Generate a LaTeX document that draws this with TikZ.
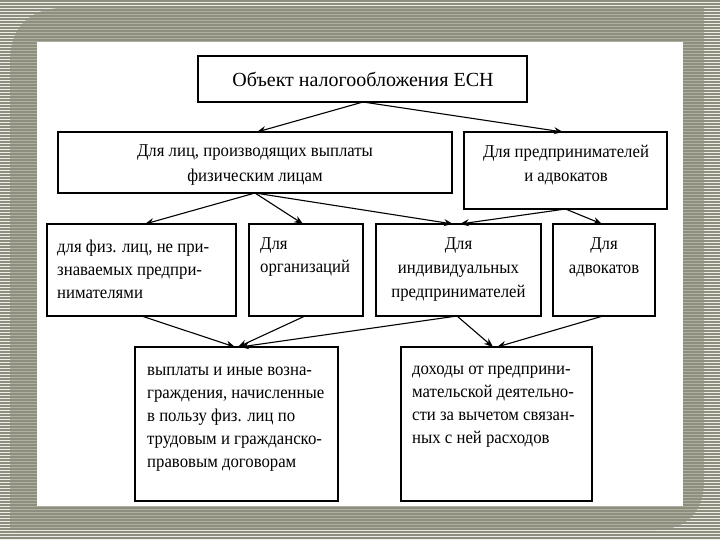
\documentclass[tikz,border=0pt]{standalone}
\usepackage{fontspec}
\setmainfont{Liberation Serif}
\newfontfamily\bodyfont[FakeStretch=0.93]{Liberation Serif}
\usetikzlibrary{arrows.meta}
\definecolor{stripe}{HTML}{8E8E7E}
\definecolor{gapc}{HTML}{EEEEE8}
\definecolor{framec}{HTML}{B0B0A2}
\begin{document}
\begin{tikzpicture}[x=1pt,y=-1pt,
  box/.style={draw=black, line width=1.3pt, fill=white, inner sep=0pt, outer sep=0pt},
  txt/.style={font=\bodyfont\fontsize{18}{23}\selectfont, inner sep=0pt},
  arr/.style={-{Stealth[length=9pt,width=7pt]}, line width=1.1pt}]
\useasboundingbox (0,0) rectangle (720,540);
% background
\fill[gapc] (0,0) rectangle (720,540);
\fill[framec] (10,530) -- (10,60) .. controls (10,28) and (30,8) .. (62,8) -- (704,8) -- (704,482) .. controls (704,512) and (686,530) .. (656,530) -- cycle;
\foreach \i in {0,...,179} {\fill[stripe] (0,\i*3) rectangle (720,\i*3+2);}
\fill[white] (37,42) rectangle (683,506);
% boxes
\node[box, minimum width=329pt, minimum height=46pt] (T) at (362.5,79) {};
\node[box, minimum width=394pt, minimum height=61pt] (A) at (255,162.5) {};
\node[box, minimum width=203pt, minimum height=77pt] (B) at (565.5,170.5) {};
\node[box, minimum width=189pt, minimum height=92pt] (C) at (141.5,270) {};
\node[box, minimum width=114pt, minimum height=92pt] (D) at (306,270) {};
\node[box, minimum width=165pt, minimum height=92pt] (E) at (458.5,270) {};
\node[box, minimum width=102pt, minimum height=92pt] (F) at (604,270) {};
\node[box, minimum width=203pt, minimum height=154pt] (G) at (236.5,424) {};
\node[box, minimum width=191pt, minimum height=154pt] (H) at (496.5,424) {};
% texts
\node[txt, font=\rmfamily\fontsize{20}{24}\selectfont] (tT) at (363,79) {Объект налогообложения ЕСН};
\node[txt, align=center, font=\bodyfont\fontsize{18}{25}\selectfont] (tA) at (255,165.5) {Для лиц, производящих выплаты\\физическим лицам};
\node[txt, align=center, font=\bodyfont\fontsize{18}{24}\selectfont] (tB) at (566,165) {Для предпринимателей\\и адвокатов};
\node[txt, align=left, anchor=west] (tC) at (57,269) {для физ. лиц, не при-\\знаваемых предпри-\\нимателями};
\node[txt, align=left, anchor=west] (tD) at (260,257) {Для\\организаций};
\node[txt, align=center, font=\bodyfont\fontsize{18}{24}\selectfont] (tE) at (458.5,269.5) {Для\\индивидуальных\\предпринимателей};
\node[txt, align=center, font=\bodyfont\fontsize{18}{24}\selectfont] (tF) at (604,257) {Для\\адвокатов};
\node[txt, align=left, anchor=west] (tG) at (147,419) {выплаты и иные возна-\\граждения, начисленные\\в пользу физ. лиц по\\трудовым и гражданско-\\правовым договорам};
\node[txt, align=left, anchor=west] (tH) at (412,407) {доходы от предприни-\\мательской деятельно-\\сти за вычетом связан-\\ных с ней расходов};
% arrows
\draw[arr] ([xshift=0.5pt]T.south) -- ([xshift=2pt]A.north);
\draw[arr] ([xshift=0.5pt]T.south) -- ([xshift=-2.5pt]B.north);
\draw[arr] (A.south) -- ([xshift=3.5pt]C.north);
\draw[arr] (A.south) -- ([xshift=-3pt]D.north);
\draw[arr] (A.south) -- ([xshift=-5.5pt]E.north);
\draw[arr] (B.south) -- ([xshift=1.5pt]E.north);
\draw[arr] (B.south) -- ([xshift=-2pt]F.north);
\draw[arr] (C.south) -- ([xshift=-1.5pt]G.north);
\draw[arr] ([xshift=-1pt]D.south) -- ([xshift=1.5pt]G.north);
\draw[arr] ([xshift=-1.5pt]E.south) -- ([xshift=3.5pt]G.north);
\draw[arr] ([xshift=-1.5pt]E.south) -- ([xshift=-3.5pt]H.north);
\draw[arr] ([xshift=-1pt]F.south) -- ([xshift=0.5pt]H.north);
\end{tikzpicture}
\end{document}
